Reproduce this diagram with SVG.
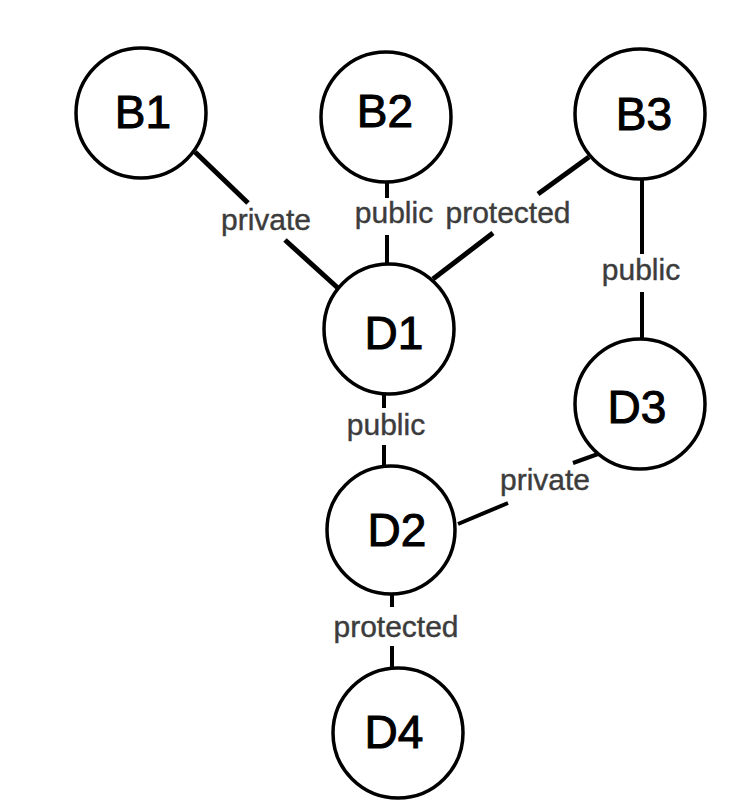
<svg xmlns="http://www.w3.org/2000/svg" width="735" height="810" viewBox="0 0 735 810">
<style>
.node circle{fill:#fff;stroke:#000;stroke-width:3.5}
.node text{font-family:"Liberation Sans",Arial,sans-serif;font-size:46px;fill:#000;stroke:#000;stroke-width:1;text-anchor:middle}
.edges line{stroke:#000;stroke-width:4;stroke-linecap:butt}
.edges line.diag{stroke-width:5}
.lbl{font-family:"Liberation Sans",Arial,sans-serif;font-size:30px;fill:#3c3c3c;stroke:#3c3c3c;stroke-width:0.4;text-anchor:middle}
</style>
<rect width="735" height="810" fill="#fff"/>
<g id="connectors" class="edges">
<line class="diag" x1="195" y1="152" x2="248" y2="203"/>
<line class="diag" x1="285" y1="240" x2="339" y2="289"/>
<line x1="387" y1="182" x2="387" y2="198"/>
<line x1="387" y1="235" x2="387" y2="265"/>
<line class="diag" x1="589" y1="157" x2="538" y2="194"/>
<line class="diag" x1="493" y1="233" x2="433" y2="279"/>
<line x1="642" y1="179" x2="642" y2="254"/>
<line x1="642" y1="292" x2="642" y2="339"/>
<line x1="384" y1="394" x2="384" y2="408"/>
<line x1="384" y1="445" x2="384" y2="467"/>
<line x1="458" y1="524" x2="508" y2="503"/>
<line x1="573" y1="463" x2="598" y2="454"/>
<line x1="392" y1="593" x2="392" y2="607"/>
<line x1="392" y1="646" x2="392" y2="668"/>
<text class="lbl" x="266" y="230">private</text>
<text class="lbl" x="394" y="223">public</text>
<text class="lbl" x="508" y="223">protected</text>
<text class="lbl" x="641" y="280">public</text>
<text class="lbl" x="386" y="435">public</text>
<text class="lbl" x="545" y="490">private</text>
<text class="lbl" x="396" y="637">protected</text>
</g>
<g id="B1" class="node"><circle cx="141" cy="113" r="65"/><text x="143" y="128">B1</text></g>
<g id="B2" class="node"><circle cx="386" cy="117" r="65"/><text x="385" y="127">B2</text></g>
<g id="B3" class="node"><circle cx="640" cy="114" r="65"/><text x="644" y="130">B3</text></g>
<g id="D1" class="node"><circle cx="389" cy="329" r="65"/><text x="394" y="349">D1</text></g>
<g id="D3" class="node"><circle cx="640" cy="404" r="65"/><text x="637" y="423">D3</text></g>
<g id="D2" class="node"><circle cx="391" cy="530" r="64"/><text x="397" y="546">D2</text></g>
<g id="D4" class="node"><circle cx="398" cy="733" r="65"/><text x="394" y="748">D4</text></g>
</svg>
